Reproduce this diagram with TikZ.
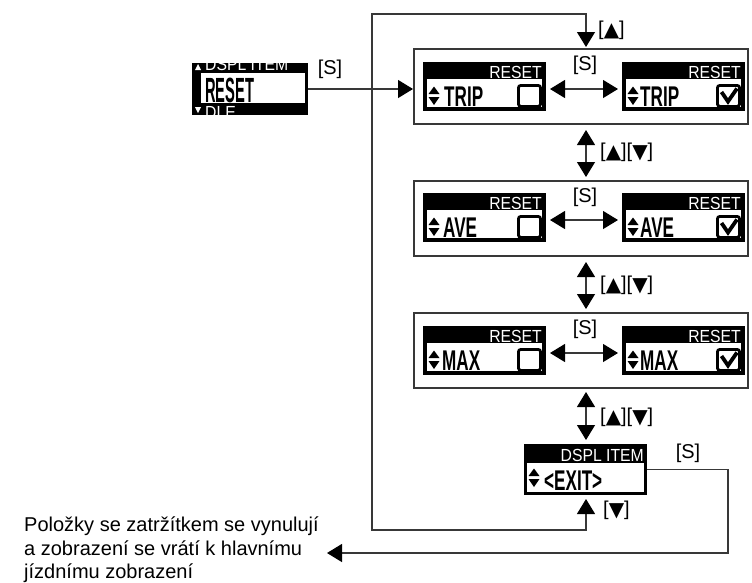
\documentclass[tikz,border=0pt]{standalone}
\usepackage{fontspec}
\setmainfont{Liberation Sans}
\newfontfamily\sym{DejaVu Sans}
\newfontfamily\lcdhead[FakeStretch=0.9]{Liberation Sans}
\newfontfamily\lcdrow[FakeStretch=0.6]{Liberation Sans Bold}
\newfontfamily\lcdbig[FakeStretch=0.42]{Liberation Sans Bold}
\usetikzlibrary{arrows.meta}
\definecolor{lineclr}{gray}{0.22}
\newcommand\tup{\raisebox{-1.5pt}{\sym ▲}}
\newcommand\tdn{\raisebox{-1.5pt}{\sym ▼}}
\newcommand\rowscreen[6]{%
  \node[scr] (#1) at (#2,#3) {};
  \fill[white] (#2+4,#3+17) rectangle (#2+119,#3+45);
  \node[hdrtxt, anchor=base east] at (#2+119,#3+16) {RESET};
  \fill (#2+11,#3+24.5) -- (#2+16.5,#3+32) -- (#2+5.5,#3+32) -- cycle;
  \fill (#2+5.5,#3+35) -- (#2+16.5,#3+35) -- (#2+11,#3+43) -- cycle;
  \node[rowtxt, anchor=base west] at (#2+#5,#3+44.5) {#4};
  \draw[line width=2.8pt, rounded corners=2.5pt] (#2+95.4,#3+23.4) rectangle (#2+117.6,#3+44.4);
  \ifnum#6=1 \draw[line width=3.8pt, line join=miter] (#2+99.5,#3+30) -- (#2+106,#3+39.5) -- (#2+115,#3+26.5);\fi
}
\begin{document}
\begin{tikzpicture}[x=1pt,y=-1pt,
  >={Triangle[length=15pt,width=18pt,color=black]},
  conn/.style={draw=lineclr, line width=1.2pt},
  frm/.style={draw=lineclr, line width=1.2pt, inner sep=0, outer sep=0, minimum width=334pt, minimum height=75pt, anchor=north west},
  scr/.style={fill=black, inner sep=0, outer sep=0, minimum width=123pt, minimum height=49pt, anchor=north west},
  hdrtxt/.style={text=white, inner sep=0, font=\lcdhead\fontsize{17.5}{17}\selectfont},
  rowtxt/.style={text=black, inner sep=0, font=\lcdrow\fontsize{28.5}{28}\selectfont},
  bigtxt/.style={text=black, inner sep=0, font=\lcdbig\fontsize{35}{35}\selectfont},
  lbl/.style={inner sep=0, font=\fontsize{20}{24}\selectfont},
  note/.style={inner sep=0, align=left, font=\fontsize{20}{23.5}\selectfont}]
\fill[white] (0,0) rectangle (752,582);
\useasboundingbox (0,0) rectangle (752,582);

% frames
\node[frm] (f1) at (414,49) {};
\node[frm] (f2) at (414,181) {};
\node[frm] (f3) at (414,313) {};

% screens
\rowscreen{s1a}{423}{62}{TRIP}{21}{0}
\rowscreen{s1b}{622}{62}{TRIP}{18}{1}
\rowscreen{s2a}{423}{193}{AVE}{20}{0}
\rowscreen{s2b}{622}{193}{AVE}{18}{1}
\rowscreen{s3a}{423}{326}{MAX}{19}{0}
\rowscreen{s3b}{622}{326}{MAX}{18}{1}

% [S] arrows between screens
\draw[conn,<->,shorten <=4pt,shorten >=4pt] ([yshift=-2.5pt]s1a.east) -- ([yshift=-2.5pt]s1b.west);
\node[lbl] (k1) at (585,65) {[S]};
\draw[conn,<->,shorten <=4pt,shorten >=4pt] ([yshift=-2.5pt]s2a.east) -- ([yshift=-2.5pt]s2b.west);
\node[lbl] (k2) at (585,197) {[S]};
\draw[conn,<->,shorten <=4pt,shorten >=4pt] ([yshift=-2.5pt]s3a.east) -- ([yshift=-2.5pt]s3b.west);
\node[lbl] (k3) at (585,329) {[S]};

% main screen
\node[fill=black, inner sep=0, outer sep=0, minimum width=116pt, minimum height=52pt, anchor=north west] (main) at (192,63) {};
\begin{scope}
\clip (192,63) rectangle (308,115);
\node[hdrtxt, anchor=base west] (mtop) at (205,70) {DSPL ITEM};
\fill[white] (195,70) -- (201,70) -- (198,64) -- cycle;
\node[hdrtxt, anchor=base west] (mbot) at (205,118) {DLE};
\fill[white] (195,107) -- (201,107) -- (198,113) -- cycle;
\end{scope}
\fill[white] (201,73) rectangle (305,103);
\node[bigtxt, anchor=base west] (mres) at (205,102) {RESET};
\draw[conn,->,shorten >=1pt] (main.east) -- (main.east -| f1.west);
\node[lbl] (km) at (330,69) {[S]};

% exit screen
\node[fill=black, inner sep=0, outer sep=0, minimum width=123pt, minimum height=51pt, anchor=north west] (exit) at (524,444) {};
\fill[white] (527,463) rectangle (644,492);
\node[hdrtxt, anchor=base east] (ehdr) at (644,461) {DSPL ITEM};
\fill (534,468.5) -- (539.5,476) -- (528.5,476) -- cycle;
\fill (528.5,479) -- (539.5,479) -- (534,487) -- cycle;
\node[rowtxt, anchor=base west] (etxt) at (544,490) {<EXIT>};

% vertical arrows
\coordinate (ax) at (586,0);
\draw[conn,<->,shorten <=6pt,shorten >=4pt] (f1.south -| ax) -- (f2.north -| ax);
\node[lbl, anchor=west] (u1) at (600,152) {[\tup][\tdn]};
\draw[conn,<->,shorten <=6pt,shorten >=4pt] (f2.south -| ax) -- (f3.north -| ax);
\node[lbl, anchor=west] (u2) at (600,285) {[\tup][\tdn]};
\draw[conn,<->,shorten <=4pt,shorten >=4pt] (f3.south -| ax) -- (exit.north -| ax);
\node[lbl, anchor=west] (u3) at (600,417) {[\tup][\tdn]};

% loop
\coordinate (lt) at (372,14);
\coordinate (lb) at (372,530);
\draw[conn,<->,shorten <=4pt,shorten >=2pt] (exit.south -| ax) -- (lb -| ax) -- (lb) -- (lt) -- (lt -| ax) -- (f1.north -| ax);
\node[lbl, anchor=west] (up) at (598,30) {[\tup]};
\node[lbl, anchor=west] (dn) at (603,510) {[\tdn]};

% return
\coordinate (rc) at (728,553);
\coordinate (rt) at (327,553);
\draw[conn,->] (exit.east) -- (exit.east -| rc) -- (rc) -- (rt);
\node[lbl] (ks) at (688,453) {[S]};
\node[note, anchor=north west] (txt) at (24,517) {Položky se zatržítkem se vynulují\\a zobrazení se vrátí k hlavnímu\\jízdnímu zobrazení};
\end{tikzpicture}
\end{document}
